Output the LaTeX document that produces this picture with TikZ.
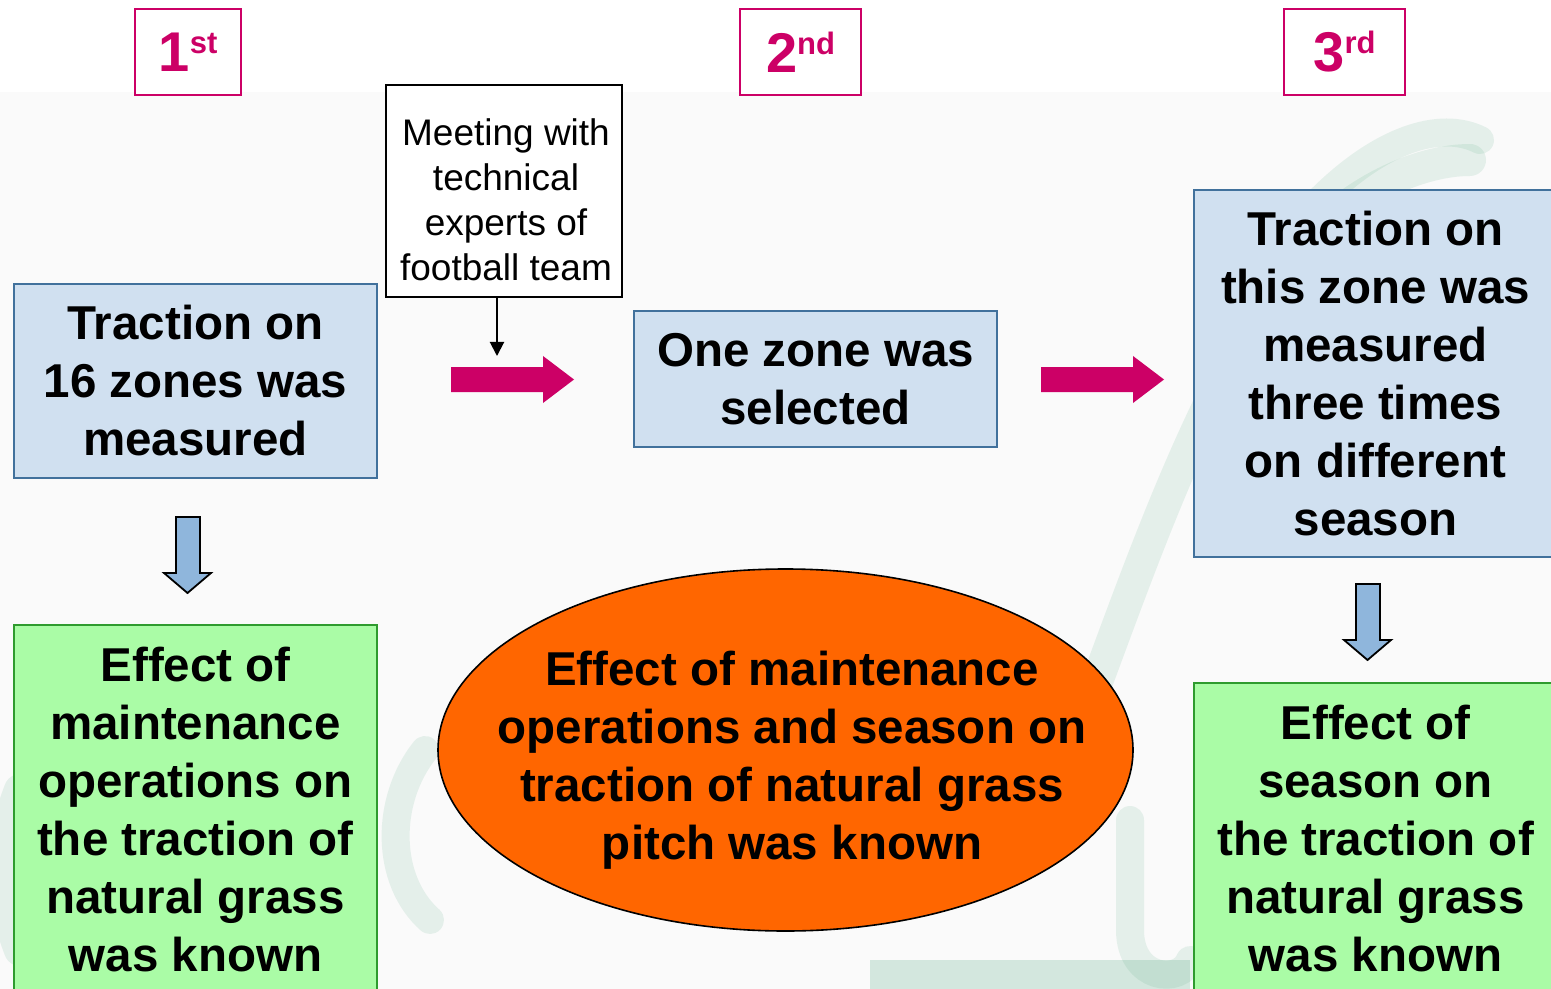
\documentclass[tikz,border=0pt]{standalone}
\usepackage{fontspec}
\setmainfont{Liberation Sans}
\usetikzlibrary{arrows.meta,shapes.geometric}
\definecolor{mag}{HTML}{CC0066}
\definecolor{bluefill}{HTML}{D0E0F0}
\definecolor{blueline}{HTML}{41719C}
\definecolor{arrowblue}{HTML}{8FB6DC}
\definecolor{greenfill}{HTML}{AAFCA6}
\definecolor{greenline}{HTML}{2E9B2E}
\definecolor{orangefill}{HTML}{FF6600}
\definecolor{bgg}{HTML}{FAFAFA}
\definecolor{wm}{HTML}{3A9E6E}
\tikzset{
  bigtxt/.style={font=\fontsize{23.75}{29}\selectfont\bfseries, align=center},
  ordbox/.style={draw=mag, line width=1pt, fill=white, minimum height=43pt, inner sep=0pt},
  bluebox/.style={draw=blueline, line width=1pt, fill=bluefill, bigtxt, inner sep=0pt, minimum width=181.5pt},
  greenbox/.style={draw=greenline, line width=1pt, fill=greenfill, bigtxt, inner sep=0pt, minimum width=181.5pt},
  magarrow/.style={fill=mag},
  bluearrow/.style={fill=arrowblue, draw=black, line width=0.9pt},
  wmark/.style={draw=wm, draw opacity=0.11, line cap=round},
}
\newcommand{\ordtxt}[2]{{\fontsize{28}{28}\selectfont\bfseries #1}\raisebox{9pt}{\fontsize{15.5}{15.5}\selectfont\bfseries #2}}
\begin{document}
\begin{tikzpicture}[x=0.5pt,y=-0.5pt]
\useasboundingbox (0,0) rectangle (1551,989);
\fill[white] (0,0) rectangle (1551,92);
\fill[bgg] (0,92) rectangle (1551,989);

% faint watermark
\draw[wmark, line width=16pt] (1060,780) .. controls (1130,600) and (1190,400) .. (1300,250) .. controls (1350,190) and (1420,160) .. (1470,160);
\draw[wmark, line width=14pt] (1320,200) .. controls (1380,140) and (1440,120) .. (1480,140);
\draw[wmark, line width=16pt] (20,790) .. controls (0,840) and (0,900) .. (20,950);
\draw[wmark, line width=14pt] (425,750) .. controls (385,800) and (385,880) .. (430,920);
\draw[wmark, line width=14pt] (1130,820) -- (1130,930) .. controls (1130,980) and (1180,985) .. (1190,960);
\fill[wm, opacity=0.2] (870,960) rectangle (1190,989);

% ordinal boxes
\node[ordbox, minimum width=53pt, text=mag] (o1) at (188,52) {\ordtxt{1}{st}};
\node[ordbox, minimum width=60.5pt, text=mag] (o2) at (800.5,52) {\ordtxt{2}{nd}};
\node[ordbox, minimum width=60.5pt, text=mag] (o3) at (1344.5,52) {\ordtxt{3}{rd}};

% meeting box
\node[draw=black, line width=1pt, fill=white, minimum width=118pt, minimum height=106pt, inner sep=0pt] (meet) at (504,191) {};
\node[font=\fontsize{18.5}{22.5}\selectfont, align=center, inner sep=0pt] (meettxt) at (506,200)
  {Meeting with\\technical\\experts of\\football team};
\coordinate (mtip) at (497,356);
\draw[line width=1pt, -{Triangle[width=7pt,length=7pt]}] (meet.south -| mtip) -- (mtip);

% blue boxes
\node[bluebox, minimum height=97pt] (b1) at (195.5,381) {Traction on\\16 zones was\\measured};
\node[bluebox, minimum height=68pt] (b2) at (815.5,379) {One zone was\\selected};
\node[bluebox, minimum height=183.5pt] (b3) at (1375.5,373.5) {Traction on\\this zone was\\measured\\three times\\on different\\season};

% magenta arrows
\fill[magarrow] (451,367) -- (543,367) -- (543,356) -- (574,379.5) -- (543,403) -- (543,392) -- (451,392) -- cycle;
\fill[magarrow] (1041,367) -- (1133,367) -- (1133,356) -- (1164,379.5) -- (1133,403) -- (1133,392) -- (1041,392) -- cycle;

% blue down arrows
\filldraw[bluearrow] (176,517) -- (200,517) -- (200,573) -- (211,573) -- (187.5,593) -- (164,573) -- (176,573) -- cycle;
\filldraw[bluearrow] (1356,584) -- (1380,584) -- (1380,640) -- (1391,640) -- (1367.5,660) -- (1344,640) -- (1356,640) -- cycle;

% green boxes
\node[greenbox, minimum height=185pt] (g1) at (195.5,810) {Effect of\\maintenance\\operations on\\the traction of\\natural grass\\was known};
\node[greenbox, minimum height=156pt] (g3) at (1375.5,839) {Effect of\\season on\\the traction of\\natural grass\\was known};

% ellipse
\node[ellipse, draw=black, line width=0.8pt, fill=orangefill, minimum width=347.5pt, minimum height=181pt, inner sep=0pt] (goal) at (785.5,750) {};
\node[bigtxt, inner sep=0pt] (goaltxt) at (792,760)
  {Effect of maintenance\\operations and season on\\traction of natural grass\\pitch was known};
\end{tikzpicture}
\end{document}
